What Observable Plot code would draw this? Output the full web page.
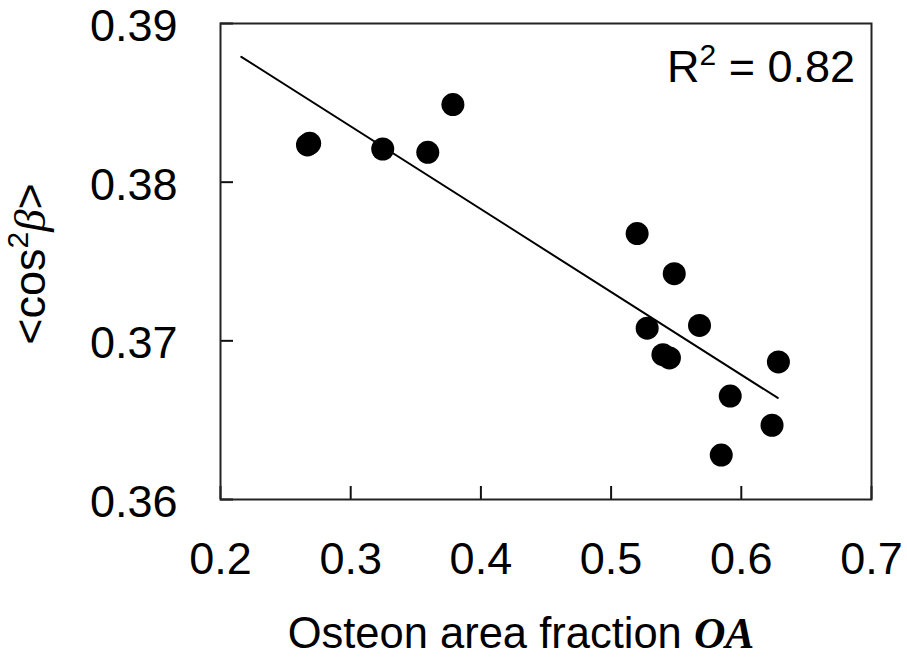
<!DOCTYPE html>
<html>
<head>
<meta charset="utf-8">
<script src="https://cdn.jsdelivr.net/npm/d3@7"></script>
<script src="https://cdn.jsdelivr.net/npm/@observablehq/plot@0.6"></script>
<style>
  html, body { margin: 0; padding: 0; background: #fff; }
  #chart svg { display: block; }
</style>
</head>
<body>
<div id="chart"></div>
<script>
// ---- data ----
const xTicks = [0.2, 0.3, 0.4, 0.5, 0.6, 0.7];
const yTicks = [0.36, 0.37, 0.38, 0.39];
const oaValues  = [0.2668, 0.2685, 0.3246, 0.3592, 0.3785, 0.5200, 0.5485, 0.5277, 0.5679, 0.5398, 0.5448, 0.6285, 0.5915, 0.6236, 0.5846];
const cosValues = [0.38235, 0.38245, 0.38209, 0.38188, 0.38489, 0.37676, 0.37423, 0.37080, 0.37097, 0.36913, 0.36892, 0.36867, 0.36652, 0.36468, 0.36280];
const fitX = [0.216, 0.628];
const fitY = [0.3879, 0.3664];
const r2Value = "0.82";
const xLabelText = "Osteon area fraction ";
const xLabelItalic = "OA";

const points = oaValues.map((x, i) => ({x, y: cosValues[i]}));
const fit = fitX.map((x, i) => ({x, y: fitY[i]}));

const W = 907, H = 661;
const mL = 220, mR = 36, mT = 23, mB = 162;
const plotW = W - mL - mR, plotH = H - mT - mB;
const font = "'Liberation Sans', Arial, Helvetica, sans-serif";

const chart = Plot.plot({
  width: W,
  height: H,
  marginLeft: mL,
  marginRight: mR,
  marginTop: mT,
  marginBottom: mB,
  style: {fontFamily: font, color: "#000", background: "#fff"},
  x: {domain: [0.2, 0.7]},
  y: {domain: [0.36, 0.39]},
  marks: [
    Plot.tickX(xTicks, {x: d => d, insetTop: plotH - 13, stroke: "#111", strokeWidth: 2}),
    Plot.tickY(yTicks, {y: d => d, insetRight: plotW - 13, stroke: "#111", strokeWidth: 2}),
    Plot.frame({stroke: "#222", strokeWidth: 2}),
    Plot.axisX(xTicks, {tickSize: 0, tickPadding: 43, fontSize: 45, label: null, tickFormat: d3.format(".1f"), fill: "#000"}),
    Plot.axisY(yTicks, {tickSize: 0, tickPadding: 43, fontSize: 45, label: null, tickFormat: d3.format(".2f"), fill: "#000", dy: 3}),
    Plot.line(fit, {x: "x", y: "y", stroke: "#000", strokeWidth: 2}),
    Plot.dot(points, {x: "x", y: "y", r: 11.5, fill: "#000", stroke: "none"})
  ]
});

document.getElementById("chart").appendChild(chart);

const svg = d3.select(chart);

// x axis title
const xt = svg.append("text")
  .attr("x", 521).attr("y", 648)
  .attr("text-anchor", "middle")
  .attr("font-family", font)
  .attr("font-size", 43.5)
  .attr("fill", "#000");
xt.append("tspan").text(xLabelText);
xt.append("tspan")
  .attr("font-family", "'Liberation Serif', 'Times New Roman', serif")
  .attr("font-style", "italic").attr("font-weight", "bold")
  .text(xLabelItalic);

// y axis title
const yt = svg.append("text")
  .attr("transform", "translate(45,264) rotate(-90)")
  .attr("text-anchor", "middle")
  .attr("font-family", font)
  .attr("font-size", 45)
  .attr("fill", "#000");
yt.append("tspan").text("<cos");
yt.append("tspan").attr("font-size", 30).attr("dy", -17).text("2");
yt.append("tspan").attr("dy", 17)
  .attr("font-family", "'Liberation Serif', 'Times New Roman', serif")
  .attr("font-style", "italic").text("β");
yt.append("tspan").text(">");

// R² annotation
const rt = svg.append("text")
  .attr("x", 855).attr("y", 82)
  .attr("text-anchor", "end")
  .attr("font-family", font)
  .attr("font-size", 45)
  .attr("fill", "#000");
rt.append("tspan").text("R");
rt.append("tspan").attr("font-size", 30).attr("dy", -17).text("2");
rt.append("tspan").attr("dy", 17).text(" = " + r2Value);
</script>
</body>
</html>
